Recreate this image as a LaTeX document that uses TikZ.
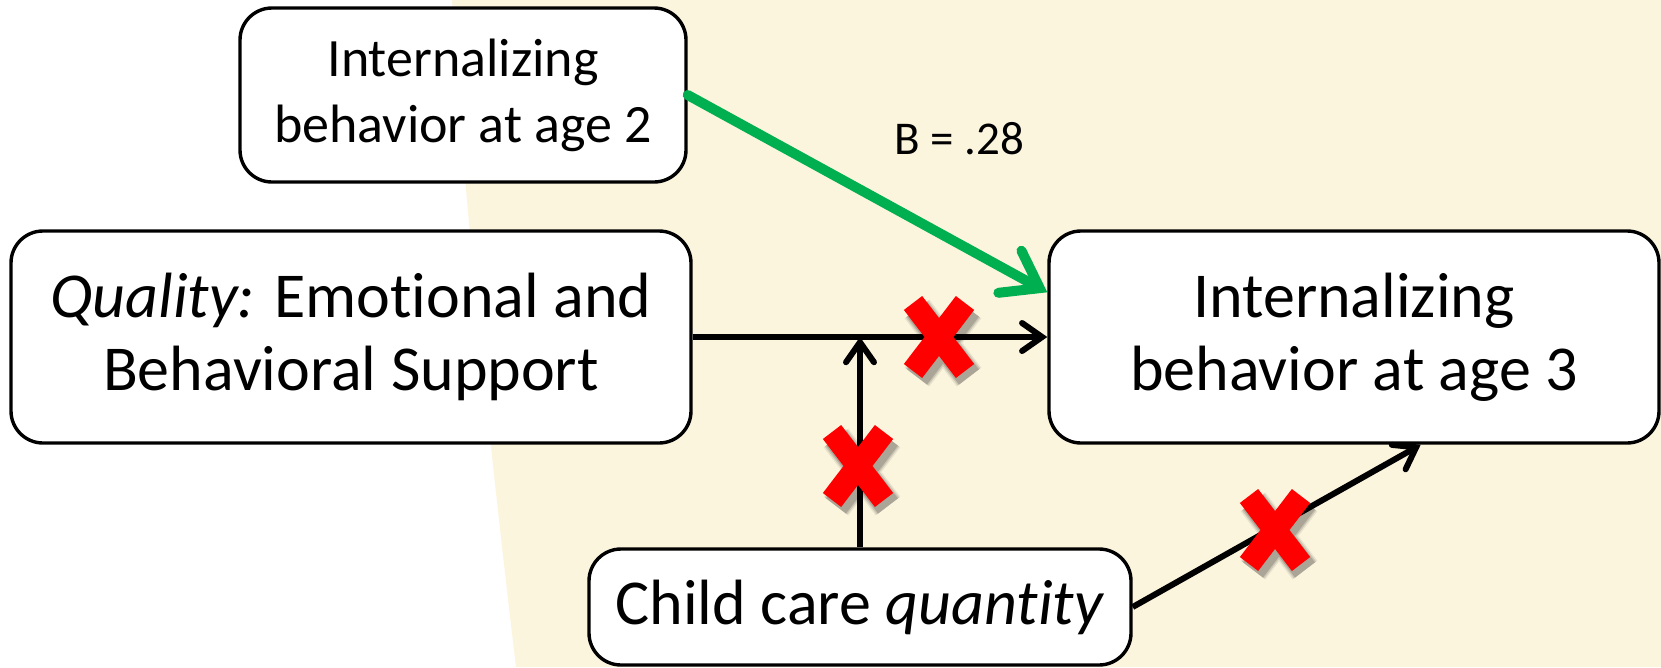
\documentclass[tikz,border=0pt]{standalone}
\usepackage{fontspec}
\setmainfont{Carlito}[Ligatures=NoCommon]
\usetikzlibrary{arrows.meta,calc}
\definecolor{cream}{RGB}{252,245,222}
\definecolor{xred}{RGB}{255,0,0}
\definecolor{agreen}{RGB}{0,176,80}
\begin{document}
\begin{tikzpicture}[x=1pt,y=-1pt,
  box/.style={draw=black,line width=3.4pt,fill=white,rounded corners=32pt,align=center,inner sep=0pt},
  big/.style={font=\fontsize{64}{73}\selectfont},
  small/.style={font=\fontsize{54}{66}\selectfont},
  arr/.style={line width=6pt,-{Straight Barb[length=20pt,width=28pt,line cap=round]}},
  garr/.style={draw=agreen,line width=10pt,line cap=round,-{Straight Barb[length=34pt,width=48pt,line cap=round]}},
  xarm/.style={line width=23pt},
  xmark/.pic={
    \foreach \w/\o in {31/.08,28/.12,25/.16}{
      \draw[xarm,black,opacity=\o,line width=\w pt,shift={(4,6)}] (-26,-34) -- (26,34) (-26,34) -- (26,-34);
    }
    \draw[xarm,xred] (-26,-34) -- (26,34) (-26,34) -- (26,-34);
  }]
\useasboundingbox (0,0) rectangle (1661,667);
\fill[white] (0,0) rectangle (1661,667);
\fill[cream] (452,0) .. controls (464,200) and (490,450) .. (516,667) -- (1661,667) -- (1661,0) -- cycle;

\node[box,small,minimum width=446pt,minimum height=174pt] (A) at (463,95) {Internalizing\\behavior at age 2};
\node[box,big,minimum width=680pt,minimum height=212pt] (Q) at (351,337) {\textit{Quality:} Emotional and\\Behavioral Support};
\node[box,big,minimum width=610pt,minimum height=212pt] (O) at (1354,337) {Internalizing\\behavior at age 3};
\node[box,big,minimum width=542pt,minimum height=116pt] (C) at (860,607) {Child care \textit{quantity}};
\node[font=\fontsize{47}{56}\selectfont] (B) at (959,139) {B = .28};

\draw[arr] (Q.east) -- (O.west);
\draw[arr] (C.north) -- (C.north |- Q.east);
\draw[arr] (C.east) -- ([xshift=-240pt]O.south east);
\draw[garr] (A.east) -- ([yshift=-63pt]O.north west);

\pic at (939,337) {xmark};
\pic at (858,466) {xmark};
\pic at (1275,530) {xmark};
\end{tikzpicture}
\end{document}
